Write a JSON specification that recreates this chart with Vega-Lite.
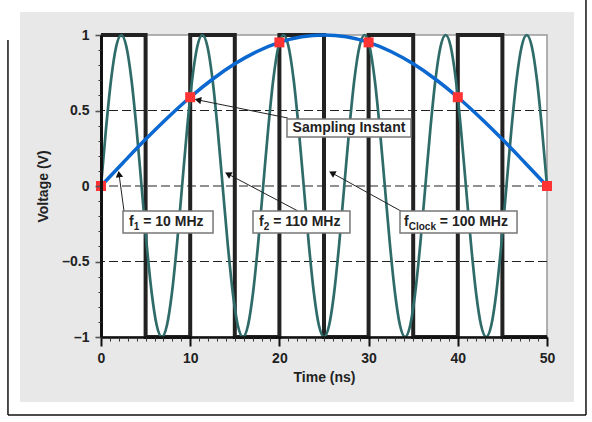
{
  "$schema": "https://vega.github.io/schema/vega-lite/v6.json",
  "width": 446,
  "height": 302,
  "autosize": {"type": "none"},
  "padding": {"left": 101, "top": 35, "right": 45, "bottom": 85},
  "background": "white",
  "config": {
    "view": {"stroke": null},
    "axis": {"labelFont": "Liberation Sans", "titleFont": "Liberation Sans"}
  },
  "data": {"values": [{}]},
  "datasets": {
    "green": [
      {"t": 0, "v": 0}, {"t": 0.568, "v": 0.383}, {"t": 1.136, "v": 0.707}, {"t": 1.705, "v": 0.924},
      {"t": 2.273, "v": 1}, {"t": 2.841, "v": 0.924}, {"t": 3.409, "v": 0.707}, {"t": 3.977, "v": 0.383},
      {"t": 4.545, "v": 0}, {"t": 5.114, "v": -0.383}, {"t": 5.682, "v": -0.707}, {"t": 6.25, "v": -0.924},
      {"t": 6.818, "v": -1}, {"t": 7.386, "v": -0.924}, {"t": 7.955, "v": -0.707}, {"t": 8.523, "v": -0.383},
      {"t": 9.091, "v": 0}, {"t": 9.659, "v": 0.383}, {"t": 10.227, "v": 0.707}, {"t": 10.795, "v": 0.924},
      {"t": 11.364, "v": 1}, {"t": 11.932, "v": 0.924}, {"t": 12.5, "v": 0.707}, {"t": 13.068, "v": 0.383},
      {"t": 13.636, "v": 0}, {"t": 14.205, "v": -0.383}, {"t": 14.773, "v": -0.707}, {"t": 15.341, "v": -0.924},
      {"t": 15.909, "v": -1}, {"t": 16.477, "v": -0.924}, {"t": 17.045, "v": -0.707}, {"t": 17.614, "v": -0.383},
      {"t": 18.182, "v": 0}, {"t": 18.75, "v": 0.383}, {"t": 19.318, "v": 0.707}, {"t": 19.886, "v": 0.924},
      {"t": 20.455, "v": 1}, {"t": 21.023, "v": 0.924}, {"t": 21.591, "v": 0.707}, {"t": 22.159, "v": 0.383},
      {"t": 22.727, "v": 0}, {"t": 23.295, "v": -0.383}, {"t": 23.864, "v": -0.707}, {"t": 24.432, "v": -0.924},
      {"t": 25, "v": -1}, {"t": 25.568, "v": -0.924}, {"t": 26.136, "v": -0.707}, {"t": 26.705, "v": -0.383},
      {"t": 27.273, "v": 0}, {"t": 27.841, "v": 0.383}, {"t": 28.409, "v": 0.707}, {"t": 28.977, "v": 0.924},
      {"t": 29.545, "v": 1}, {"t": 30.114, "v": 0.924}, {"t": 30.682, "v": 0.707}, {"t": 31.25, "v": 0.383},
      {"t": 31.818, "v": 0}, {"t": 32.386, "v": -0.383}, {"t": 32.955, "v": -0.707}, {"t": 33.523, "v": -0.924},
      {"t": 34.091, "v": -1}, {"t": 34.659, "v": -0.924}, {"t": 35.227, "v": -0.707}, {"t": 35.795, "v": -0.383},
      {"t": 36.364, "v": 0}, {"t": 36.932, "v": 0.383}, {"t": 37.5, "v": 0.707}, {"t": 38.068, "v": 0.924},
      {"t": 38.636, "v": 1}, {"t": 39.205, "v": 0.924}, {"t": 39.773, "v": 0.707}, {"t": 40.341, "v": 0.383},
      {"t": 40.909, "v": 0}, {"t": 41.477, "v": -0.383}, {"t": 42.045, "v": -0.707}, {"t": 42.614, "v": -0.924},
      {"t": 43.182, "v": -1}, {"t": 43.75, "v": -0.924}, {"t": 44.318, "v": -0.707}, {"t": 44.886, "v": -0.383},
      {"t": 45.455, "v": 0}, {"t": 46.023, "v": 0.383}, {"t": 46.591, "v": 0.707}, {"t": 47.159, "v": 0.924},
      {"t": 47.727, "v": 1}, {"t": 48.295, "v": 0.924}, {"t": 48.864, "v": 0.707}, {"t": 49.432, "v": 0.383},
      {"t": 50, "v": 0}
    ],
    "blue": [
      {"t": 0, "v": 0}, {"t": 2.5, "v": 0.156}, {"t": 5, "v": 0.309}, {"t": 7.5, "v": 0.454},
      {"t": 10, "v": 0.588}, {"t": 12.5, "v": 0.707}, {"t": 15, "v": 0.809}, {"t": 17.5, "v": 0.891},
      {"t": 20, "v": 0.951}, {"t": 22.5, "v": 0.988}, {"t": 25, "v": 1}, {"t": 27.5, "v": 0.988},
      {"t": 30, "v": 0.951}, {"t": 32.5, "v": 0.891}, {"t": 35, "v": 0.809}, {"t": 37.5, "v": 0.707},
      {"t": 40, "v": 0.588}, {"t": 42.5, "v": 0.454}, {"t": 45, "v": 0.309}, {"t": 47.5, "v": 0.156},
      {"t": 50, "v": 0}
    ],
    "clock": [
      {"t": 0, "v": 1}, {"t": 5, "v": -1}, {"t": 10, "v": 1}, {"t": 15, "v": -1}, {"t": 20, "v": 1},
      {"t": 25, "v": -1}, {"t": 30, "v": 1}, {"t": 35, "v": -1}, {"t": 40, "v": 1}, {"t": 45, "v": -1},
      {"t": 50, "v": -1}
    ],
    "samples": [
      {"t": 0, "v": 0}, {"t": 10, "v": 0.588}, {"t": 20, "v": 0.951},
      {"t": 30, "v": 0.951}, {"t": 40, "v": 0.588}, {"t": 50, "v": 0}
    ],
    "grid": [{"level": 0.5}, {"level": 0}, {"level": -0.5}]
  },
  "resolve": {"axis": {"x": "independent", "y": "independent"}},
  "layer": [
    {
      "mark": {"type": "rect", "fill": "#e8e8e8"},
      "encoding": {
        "x": {"datum": -9.08, "type": "quantitative", "axis": null},
        "x2": {"datum": 53.03},
        "y": {"datum": 1.152, "type": "quantitative", "axis": null},
        "y2": {"datum": -1.43}
      }
    },
    {
      "mark": {"type": "rule", "color": "#111", "strokeWidth": 1.5},
      "encoding": {
        "x": {"datum": -10.43, "type": "quantitative", "axis": null},
        "y": {"datum": 0.967, "type": "quantitative", "axis": null},
        "y2": {"datum": -1.517}
      }
    },
    {
      "mark": {"type": "rule", "color": "#111", "strokeWidth": 1.5},
      "encoding": {
        "x": {"datum": -10.43, "type": "quantitative", "axis": null},
        "x2": {"datum": 54.37},
        "y": {"datum": -1.517, "type": "quantitative", "axis": null}
      }
    },
    {
      "mark": {"type": "rule", "color": "#111", "strokeWidth": 1.5},
      "encoding": {
        "x": {"datum": 54.37, "type": "quantitative", "axis": null},
        "y": {"datum": 1.24, "type": "quantitative", "axis": null},
        "y2": {"datum": -1.517}
      }
    },
    {
      "mark": {"type": "rect", "fill": "white", "stroke": "#999", "strokeWidth": 1.5},
      "encoding": {
        "x": {"datum": 0, "type": "quantitative", "axis": null},
        "x2": {"datum": 50},
        "y": {"datum": -1, "type": "quantitative", "axis": null},
        "y2": {"datum": 1}
      }
    },
    {
      "data": {"name": "grid"},
      "mark": {"type": "rule", "color": "#222", "strokeWidth": 1.1, "strokeDash": [9, 4]},
      "encoding": {
        "y": {"field": "level", "type": "quantitative", "axis": null}
      }
    },
    {
      "data": {"name": "clock"},
      "mark": {"type": "line", "interpolate": "step-after", "color": "#222", "strokeWidth": 4},
      "encoding": {
        "x": {"field": "t", "type": "quantitative", "axis": null},
        "y": {"field": "v", "type": "quantitative", "axis": null}
      }
    },
    {
      "data": {"name": "green"},
      "mark": {"type": "line", "interpolate": "monotone", "color": "#2f6b68", "strokeWidth": 2.7},
      "encoding": {
        "x": {
          "field": "t", "type": "quantitative",
          "scale": {"domain": [0, 50], "nice": false, "zero": false},
          "axis": {
            "orient": "bottom", "values": [0, 10, 20, 30, 40, 50], "zindex": 1, "grid": false,
            "tickSize": 9, "tickWidth": 2, "tickColor": "#111",
            "domainColor": "#111", "domainWidth": 2.5,
            "labelFontSize": 14, "labelFontWeight": "bold", "labelColor": "#222", "labelPadding": 5,
            "labelFlush": false, "labelOverlap": false,
            "title": "Time (ns)", "titleFontSize": 14, "titleFontWeight": "bold", "titleColor": "#222",
            "titlePadding": 5
          }
        },
        "y": {
          "field": "v", "type": "quantitative",
          "scale": {"domain": [-1, 1], "nice": false, "zero": false},
          "axis": {
            "orient": "left", "values": [-1, -0.5, 0, 0.5, 1], "zindex": 1, "grid": false,
            "format": "~g", "labelExpr": "replace(datum.label, '−', '–')",
            "tickSize": 6, "tickWidth": 1.6, "tickColor": "#555",
            "domainColor": "#111", "domainWidth": 3,
            "labelFontSize": 14, "labelFontWeight": "bold", "labelColor": "#222", "labelPadding": 6,
            "labelFlush": false, "labelOverlap": false,
            "title": "Voltage (V)", "titleFontSize": 14, "titleFontWeight": "bold", "titleColor": "#222",
            "titlePadding": 11
          }
        }
      }
    },
    {
      "data": {"name": "blue"},
      "mark": {"type": "line", "interpolate": "monotone", "color": "#0a68d0", "strokeWidth": 3.5},
      "encoding": {
        "x": {
          "field": "t", "type": "quantitative",
          "axis": {
            "orient": "bottom", "zindex": 1, "grid": false, "domain": false, "labels": false, "title": null,
            "values": [1,2,3,4,5,6,7,8,9,11,12,13,14,15,16,17,18,19,21,22,23,24,25,26,27,28,29,31,32,33,34,35,36,37,38,39,41,42,43,44,45,46,47,48,49],
            "tickSize": 4, "tickWidth": 1, "tickColor": "#333"
          }
        },
        "y": {
          "field": "v", "type": "quantitative",
          "axis": {
            "orient": "left", "zindex": 1, "grid": false, "domain": false, "labels": false, "title": null,
            "values": [-0.9,-0.8,-0.7,-0.6,-0.4,-0.3,-0.2,-0.1,0.1,0.2,0.3,0.4,0.6,0.7,0.8,0.9],
            "tickSize": 3, "tickWidth": 1, "tickColor": "#333"
          }
        }
      }
    },
    {
      "data": {"name": "samples"},
      "mark": {"type": "point", "shape": "square", "filled": true, "size": 100, "color": "#ff3333", "opacity": 1},
      "encoding": {
        "x": {"field": "t", "type": "quantitative", "axis": null},
        "y": {"field": "v", "type": "quantitative", "axis": null}
      }
    },
    {
      "mark": {"type": "rule", "color": "#222", "strokeWidth": 1},
      "encoding": {
        "x": {"datum": 20.96, "type": "quantitative", "axis": null}, "x2": {"datum": 10.87},
        "y": {"datum": 0.45, "type": "quantitative", "axis": null}, "y2": {"datum": 0.57}
      }
    },
    {
      "mark": {"type": "rule", "color": "#222", "strokeWidth": 1},
      "encoding": {
        "x": {"datum": 2.58, "type": "quantitative", "axis": null}, "x2": {"datum": 2.02},
        "y": {"datum": -0.166, "type": "quantitative", "axis": null}, "y2": {"datum": 0.079}
      }
    },
    {
      "mark": {"type": "rule", "color": "#222", "strokeWidth": 1},
      "encoding": {
        "x": {"datum": 22.09, "type": "quantitative", "axis": null}, "x2": {"datum": 14.24},
        "y": {"datum": -0.166, "type": "quantitative", "axis": null}, "y2": {"datum": 0.079}
      }
    },
    {
      "mark": {"type": "rule", "color": "#222", "strokeWidth": 1},
      "encoding": {
        "x": {"datum": 33.63, "type": "quantitative", "axis": null}, "x2": {"datum": 25.9},
        "y": {"datum": -0.166, "type": "quantitative", "axis": null}, "y2": {"datum": 0.086}
      }
    },
    {
      "mark": {"type": "point", "shape": "triangle-up", "filled": true, "size": 55, "color": "#111", "opacity": 1, "angle": 281},
      "encoding": {
        "x": {"datum": 10.87, "type": "quantitative", "axis": null},
        "y": {"datum": 0.57, "type": "quantitative", "axis": null}
      }
    },
    {
      "mark": {"type": "point", "shape": "triangle-up", "filled": true, "size": 55, "color": "#111", "opacity": 1, "angle": 352},
      "encoding": {
        "x": {"datum": 2.02, "type": "quantitative", "axis": null},
        "y": {"datum": 0.079, "type": "quantitative", "axis": null}
      }
    },
    {
      "mark": {"type": "point", "shape": "triangle-up", "filled": true, "size": 55, "color": "#111", "opacity": 1, "angle": 298},
      "encoding": {
        "x": {"datum": 14.24, "type": "quantitative", "axis": null},
        "y": {"datum": 0.079, "type": "quantitative", "axis": null}
      }
    },
    {
      "mark": {"type": "point", "shape": "triangle-up", "filled": true, "size": 55, "color": "#111", "opacity": 1, "angle": 299},
      "encoding": {
        "x": {"datum": 25.9, "type": "quantitative", "axis": null},
        "y": {"datum": 0.086, "type": "quantitative", "axis": null}
      }
    },
    {
      "mark": {"type": "rect", "fill": "white", "stroke": "#777", "strokeWidth": 1.5},
      "encoding": {
        "x": {"datum": 20.85, "type": "quantitative", "axis": null}, "x2": {"datum": 34.75},
        "y": {"datum": 0.444, "type": "quantitative", "axis": null}, "y2": {"datum": 0.325}
      }
    },
    {
      "mark": {"type": "rect", "fill": "white", "stroke": "#777", "strokeWidth": 1.5},
      "encoding": {
        "x": {"datum": 2.47, "type": "quantitative", "axis": null}, "x2": {"datum": 12.56},
        "y": {"datum": -0.166, "type": "quantitative", "axis": null}, "y2": {"datum": -0.311}
      }
    },
    {
      "mark": {"type": "rect", "fill": "white", "stroke": "#777", "strokeWidth": 1.5},
      "encoding": {
        "x": {"datum": 17.04, "type": "quantitative", "axis": null}, "x2": {"datum": 27.91},
        "y": {"datum": -0.166, "type": "quantitative", "axis": null}, "y2": {"datum": -0.311}
      }
    },
    {
      "mark": {"type": "rect", "fill": "white", "stroke": "#777", "strokeWidth": 1.5},
      "encoding": {
        "x": {"datum": 33.52, "type": "quantitative", "axis": null}, "x2": {"datum": 46.64},
        "y": {"datum": -0.166, "type": "quantitative", "axis": null}, "y2": {"datum": -0.311}
      }
    },
    {
      "mark": {"type": "text", "text": "Sampling Instant", "font": "Liberation Sans", "fontSize": 14, "fontWeight": "bold", "color": "#222", "align": "center", "baseline": "middle"},
      "encoding": {
        "x": {"datum": 27.8, "type": "quantitative", "axis": null},
        "y": {"datum": 0.384, "type": "quantitative", "axis": null}
      }
    },
    {
      "mark": {"type": "text", "text": "f", "font": "Liberation Sans", "fontSize": 14, "fontWeight": "bold", "color": "#222", "align": "left", "baseline": "middle"},
      "encoding": {
        "x": {"datum": 3.14, "type": "quantitative", "axis": null},
        "y": {"datum": -0.238, "type": "quantitative", "axis": null}
      }
    },
    {
      "mark": {"type": "text", "text": "1", "font": "Liberation Sans", "fontSize": 10, "fontWeight": "bold", "color": "#222", "align": "left", "baseline": "middle", "dy": 5},
      "encoding": {
        "x": {"datum": 3.67, "type": "quantitative", "axis": null},
        "y": {"datum": -0.238, "type": "quantitative", "axis": null}
      }
    },
    {
      "mark": {"type": "text", "text": "= 10 MHz", "font": "Liberation Sans", "fontSize": 14, "fontWeight": "bold", "color": "#222", "align": "left", "baseline": "middle"},
      "encoding": {
        "x": {"datum": 4.73, "type": "quantitative", "axis": null},
        "y": {"datum": -0.238, "type": "quantitative", "axis": null}
      }
    },
    {
      "mark": {"type": "text", "text": "f", "font": "Liberation Sans", "fontSize": 14, "fontWeight": "bold", "color": "#222", "align": "left", "baseline": "middle"},
      "encoding": {
        "x": {"datum": 17.71, "type": "quantitative", "axis": null},
        "y": {"datum": -0.238, "type": "quantitative", "axis": null}
      }
    },
    {
      "mark": {"type": "text", "text": "2", "font": "Liberation Sans", "fontSize": 10, "fontWeight": "bold", "color": "#222", "align": "left", "baseline": "middle", "dy": 5},
      "encoding": {
        "x": {"datum": 18.24, "type": "quantitative", "axis": null},
        "y": {"datum": -0.238, "type": "quantitative", "axis": null}
      }
    },
    {
      "mark": {"type": "text", "text": "= 110 MHz", "font": "Liberation Sans", "fontSize": 14, "fontWeight": "bold", "color": "#222", "align": "left", "baseline": "middle"},
      "encoding": {
        "x": {"datum": 19.3, "type": "quantitative", "axis": null},
        "y": {"datum": -0.238, "type": "quantitative", "axis": null}
      }
    },
    {
      "mark": {"type": "text", "text": "f", "font": "Liberation Sans", "fontSize": 14, "fontWeight": "bold", "color": "#222", "align": "left", "baseline": "middle"},
      "encoding": {
        "x": {"datum": 33.97, "type": "quantitative", "axis": null},
        "y": {"datum": -0.238, "type": "quantitative", "axis": null}
      }
    },
    {
      "mark": {"type": "text", "text": "Clock", "font": "Liberation Sans", "fontSize": 10, "fontWeight": "bold", "color": "#222", "align": "left", "baseline": "middle", "dy": 5},
      "encoding": {
        "x": {"datum": 34.5, "type": "quantitative", "axis": null},
        "y": {"datum": -0.238, "type": "quantitative", "axis": null}
      }
    },
    {
      "mark": {"type": "text", "text": "= 100 MHz", "font": "Liberation Sans", "fontSize": 14, "fontWeight": "bold", "color": "#222", "align": "left", "baseline": "middle"},
      "encoding": {
        "x": {"datum": 37.99, "type": "quantitative", "axis": null},
        "y": {"datum": -0.238, "type": "quantitative", "axis": null}
      }
    }
  ]
}
